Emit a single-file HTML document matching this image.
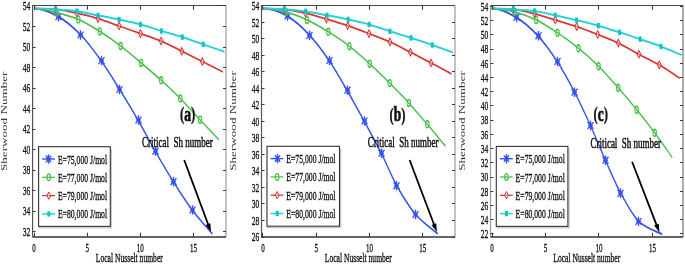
<!DOCTYPE html><html><head><meta charset="utf-8"><style>html,body{margin:0;padding:0;background:#fff;overflow:hidden}svg{display:block;will-change:transform}text{font-family:"Liberation Serif",serif}.t{stroke:#111;stroke-width:0.35px;paint-order:stroke}.lt{font-weight:normal;fill:#333}.t2{stroke-width:0.5px}</style></head><body>
<svg width="685" height="264" viewBox="0 0 685 264">
<rect width="685" height="264" fill="#fff"/>
<g transform="scale(0.6000,1)">
<path d="M57.00,8.50 C70.50,8.50 84.53,12.28 97.50,16.70 C110.47,21.12 123.03,27.70 134.83,35.00 C146.64,42.30 157.56,51.42 168.33,60.50 C179.11,69.58 189.22,79.58 199.50,89.50 C209.78,99.42 220.14,109.73 230.00,120.00 C239.86,130.27 248.86,140.83 258.67,151.10 C268.47,161.37 278.58,171.78 288.83,181.60 C299.08,191.42 309.28,201.27 320.17,210.00 C331.06,218.73 348.50,230.00 354.17,234.00" stroke="#3552ee" stroke-width="2.00" fill="none" stroke-linejoin="round"/>
<path transform="scale(1.6667,1)" d="M58.50,12.00V21.40M56.10,16.70H60.90M55.50,13.30L61.50,20.10M55.50,20.10L61.50,13.30" stroke="#3552ee" stroke-width="1.40" fill="none"/>
<path transform="scale(1.6667,1)" d="M80.50,30.30V39.70M78.10,35.00H82.90M77.50,31.60L83.50,38.40M77.50,38.40L83.50,31.60" stroke="#3552ee" stroke-width="1.40" fill="none"/>
<path transform="scale(1.6667,1)" d="M101.50,55.80V65.20M99.10,60.50H103.90M98.50,57.10L104.50,63.90M98.50,63.90L104.50,57.10" stroke="#3552ee" stroke-width="1.40" fill="none"/>
<path transform="scale(1.6667,1)" d="M119.50,84.80V94.20M117.10,89.50H121.90M116.50,86.10L122.50,92.90M116.50,92.90L122.50,86.10" stroke="#3552ee" stroke-width="1.40" fill="none"/>
<path transform="scale(1.6667,1)" d="M138.50,115.30V124.70M136.10,120.00H140.90M135.50,116.60L141.50,123.40M135.50,123.40L141.50,116.60" stroke="#3552ee" stroke-width="1.40" fill="none"/>
<path transform="scale(1.6667,1)" d="M155.50,146.40V155.80M153.10,151.10H157.90M152.50,147.70L158.50,154.50M152.50,154.50L158.50,147.70" stroke="#3552ee" stroke-width="1.40" fill="none"/>
<path transform="scale(1.6667,1)" d="M173.50,176.90V186.30M171.10,181.60H175.90M170.50,178.20L176.50,185.00M170.50,185.00L176.50,178.20" stroke="#3552ee" stroke-width="1.40" fill="none"/>
<path transform="scale(1.6667,1)" d="M192.50,205.30V214.70M190.10,210.00H194.90M189.50,206.60L195.50,213.40M189.50,213.40L195.50,206.60" stroke="#3552ee" stroke-width="1.40" fill="none"/>
<path d="M57.00,8.50 C69.56,8.50 82.42,10.78 94.67,12.60 C106.92,14.42 118.56,16.27 130.50,19.40 C142.44,22.53 154.56,26.97 166.33,31.40 C178.11,35.83 189.69,40.75 201.17,46.00 C212.64,51.25 223.92,57.18 235.17,62.90 C246.42,68.62 257.78,74.37 268.67,80.30 C279.56,86.23 289.72,91.93 300.50,98.50 C311.28,105.07 322.61,112.83 333.33,119.70 C344.06,126.57 359.58,136.37 364.83,139.70" stroke="#48c04c" stroke-width="1.75" fill="none" stroke-linejoin="round"/>
<ellipse cx="94.67" cy="12.60" rx="2.92" ry="3.4" stroke="#48c04c" stroke-width="1.60" fill="none"/>
<ellipse cx="130.50" cy="19.40" rx="2.92" ry="3.4" stroke="#48c04c" stroke-width="1.60" fill="none"/>
<ellipse cx="166.33" cy="31.40" rx="2.92" ry="3.4" stroke="#48c04c" stroke-width="1.60" fill="none"/>
<ellipse cx="201.17" cy="46.00" rx="2.92" ry="3.4" stroke="#48c04c" stroke-width="1.60" fill="none"/>
<ellipse cx="235.17" cy="62.90" rx="2.92" ry="3.4" stroke="#48c04c" stroke-width="1.60" fill="none"/>
<ellipse cx="268.67" cy="80.30" rx="2.92" ry="3.4" stroke="#48c04c" stroke-width="1.60" fill="none"/>
<ellipse cx="300.50" cy="98.50" rx="2.92" ry="3.4" stroke="#48c04c" stroke-width="1.60" fill="none"/>
<ellipse cx="333.33" cy="119.70" rx="2.92" ry="3.4" stroke="#48c04c" stroke-width="1.60" fill="none"/>
<path d="M57.00,8.50 C68.83,8.50 80.64,8.62 92.50,9.40 C104.36,10.18 116.36,11.67 128.17,13.20 C139.97,14.73 151.61,16.47 163.33,18.60 C175.06,20.73 186.69,23.50 198.50,26.00 C210.31,28.50 222.50,31.08 234.17,33.60 C245.83,36.12 257.03,38.17 268.50,41.10 C279.97,44.03 291.56,47.80 303.00,51.20 C314.44,54.60 325.72,58.03 337.17,61.50 C348.61,64.97 365.92,70.25 371.67,72.00" stroke="#d83232" stroke-width="1.75" fill="none" stroke-linejoin="round"/>
<path d="M92.50,5.70L95.67,9.40L92.50,13.10L89.33,9.40Z" stroke="#d83232" stroke-width="1.40" fill="#fff" fill-opacity="0.35"/>
<path d="M128.17,9.50L131.33,13.20L128.17,16.90L125.00,13.20Z" stroke="#d83232" stroke-width="1.40" fill="#fff" fill-opacity="0.35"/>
<path d="M163.33,14.90L166.50,18.60L163.33,22.30L160.17,18.60Z" stroke="#d83232" stroke-width="1.40" fill="#fff" fill-opacity="0.35"/>
<path d="M198.50,22.30L201.67,26.00L198.50,29.70L195.33,26.00Z" stroke="#d83232" stroke-width="1.40" fill="#fff" fill-opacity="0.35"/>
<path d="M234.17,29.90L237.33,33.60L234.17,37.30L231.00,33.60Z" stroke="#d83232" stroke-width="1.40" fill="#fff" fill-opacity="0.35"/>
<path d="M268.50,37.40L271.67,41.10L268.50,44.80L265.33,41.10Z" stroke="#d83232" stroke-width="1.40" fill="#fff" fill-opacity="0.35"/>
<path d="M303.00,47.50L306.17,51.20L303.00,54.90L299.83,51.20Z" stroke="#d83232" stroke-width="1.40" fill="#fff" fill-opacity="0.35"/>
<path d="M337.17,57.80L340.33,61.50L337.17,65.20L334.00,61.50Z" stroke="#d83232" stroke-width="1.40" fill="#fff" fill-opacity="0.35"/>
<path d="M57.00,8.50 C69.00,8.50 81.11,8.95 93.00,9.40 C104.89,9.85 116.61,10.20 128.33,11.20 C140.06,12.20 151.64,14.00 163.33,15.40 C175.03,16.80 186.69,18.08 198.50,19.60 C210.31,21.12 222.42,22.60 234.17,24.50 C245.92,26.40 257.39,28.90 269.00,31.00 C280.61,33.10 292.19,34.87 303.83,37.10 C315.47,39.33 327.11,41.97 338.83,44.40 C350.56,46.83 368.28,50.48 374.17,51.70" stroke="#28d2d2" stroke-width="2.00" fill="none" stroke-linejoin="round"/>
<rect x="90.50" y="6.70" width="5.00" height="5.4" fill="#14c2c8"/>
<rect x="125.83" y="8.50" width="5.00" height="5.4" fill="#14c2c8"/>
<rect x="160.83" y="12.70" width="5.00" height="5.4" fill="#14c2c8"/>
<rect x="196.00" y="16.90" width="5.00" height="5.4" fill="#14c2c8"/>
<rect x="231.67" y="21.80" width="5.00" height="5.4" fill="#14c2c8"/>
<rect x="266.50" y="28.30" width="5.00" height="5.4" fill="#14c2c8"/>
<rect x="301.33" y="34.40" width="5.00" height="5.4" fill="#14c2c8"/>
<rect x="336.33" y="41.70" width="5.00" height="5.4" fill="#14c2c8"/>
</g>
<path d="M226.00,5.50V237.00" stroke="#999" stroke-width="1.2" fill="none"/>
<path d="M32.60,5.50V237.00" stroke="#555" stroke-width="1.2" fill="none"/>
<path d="M32.60,5.50H226.00" stroke="#444" stroke-width="1.1" fill="none"/>
<path d="M32.60,237.00H226.00" stroke="#333" stroke-width="1.5" fill="none"/>
<path d="M34.50,237.00V232.70M34.50,5.50V9.70M87.50,237.00V232.70M87.50,5.50V9.70M140.50,237.00V232.70M140.50,5.50V9.70M193.50,237.00V232.70M193.50,5.50V9.70M32.60,231.50H35.60M226.00,231.50H223.00M32.60,211.50H35.60M226.00,211.50H223.00M32.60,190.50H35.60M226.00,190.50H223.00M32.60,170.50H35.60M226.00,170.50H223.00M32.60,149.50H35.60M226.00,149.50H223.00M32.60,129.50H35.60M226.00,129.50H223.00M32.60,108.50H35.60M226.00,108.50H223.00M32.60,88.50H35.60M226.00,88.50H223.00M32.60,67.50H35.60M226.00,67.50H223.00M32.60,47.50H35.60M226.00,47.50H223.00M32.60,26.50H35.60M226.00,26.50H223.00M32.60,5.50H35.60M226.00,5.50H223.00" stroke="#3a3a3a" stroke-width="1.1" fill="none"/>
<text x="32.35" y="251.7" font-size="13" textLength="3.50" lengthAdjust="spacingAndGlyphs" fill="#111" class="t">0</text>
<text x="85.45" y="251.7" font-size="13" textLength="3.50" lengthAdjust="spacingAndGlyphs" fill="#111" class="t">5</text>
<text x="136.80" y="251.7" font-size="13" textLength="7.00" lengthAdjust="spacingAndGlyphs" fill="#111" class="t">10</text>
<text x="189.90" y="251.7" font-size="13" textLength="7.00" lengthAdjust="spacingAndGlyphs" fill="#111" class="t">15</text>
<text x="22.80" y="235.90" font-size="13.5" textLength="7.50" lengthAdjust="spacingAndGlyphs" fill="#111" class="t">32</text>
<text x="22.80" y="215.39" font-size="13.5" textLength="7.50" lengthAdjust="spacingAndGlyphs" fill="#111" class="t">34</text>
<text x="22.80" y="194.88" font-size="13.5" textLength="7.50" lengthAdjust="spacingAndGlyphs" fill="#111" class="t">36</text>
<text x="22.80" y="174.37" font-size="13.5" textLength="7.50" lengthAdjust="spacingAndGlyphs" fill="#111" class="t">38</text>
<text x="22.80" y="153.86" font-size="13.5" textLength="7.50" lengthAdjust="spacingAndGlyphs" fill="#111" class="t">40</text>
<text x="22.80" y="133.35" font-size="13.5" textLength="7.50" lengthAdjust="spacingAndGlyphs" fill="#111" class="t">42</text>
<text x="22.80" y="112.84" font-size="13.5" textLength="7.50" lengthAdjust="spacingAndGlyphs" fill="#111" class="t">44</text>
<text x="22.80" y="92.33" font-size="13.5" textLength="7.50" lengthAdjust="spacingAndGlyphs" fill="#111" class="t">46</text>
<text x="22.80" y="71.82" font-size="13.5" textLength="7.50" lengthAdjust="spacingAndGlyphs" fill="#111" class="t">48</text>
<text x="22.80" y="51.31" font-size="13.5" textLength="7.50" lengthAdjust="spacingAndGlyphs" fill="#111" class="t">50</text>
<text x="22.80" y="30.80" font-size="13.5" textLength="7.50" lengthAdjust="spacingAndGlyphs" fill="#111" class="t">52</text>
<text x="22.80" y="10.29" font-size="13.5" textLength="7.50" lengthAdjust="spacingAndGlyphs" fill="#111" class="t">54</text>
<text x="95.80" y="262.3" font-size="13" textLength="67" lengthAdjust="spacingAndGlyphs" fill="#111" class="t">Local Nusselt number</text>
<text transform="translate(6.60,121.30) scale(0.62,1) rotate(-90)" x="0" y="0" font-size="12.6" font-weight="bold" text-anchor="middle" textLength="99.5" lengthAdjust="spacingAndGlyphs" fill="#111" class="lt">Sherwood Number</text>
<path d="M38.60,227.90H111.50V148.70" stroke="#c8c8c8" stroke-width="1.2" fill="none"/>
<rect x="38.60" y="146.70" width="71.70" height="79.70" fill="#fff" stroke="#333" stroke-width="1.1"/>
<path d="M42.20,159.00H55.00" stroke="#3552ee" stroke-width="1.40"/>
<path transform="scale(1.0000,1)" d="M48.50,154.30V163.70M46.10,159.00H50.90M45.90,155.80L51.10,162.20M45.90,162.20L51.10,155.80" stroke="#3552ee" stroke-width="1.40" fill="none"/>
<text x="57.90" y="163.50" font-size="13.5" textLength="49.2" lengthAdjust="spacingAndGlyphs" fill="#111" class="t">E=75,000 J/mol</text>
<path d="M42.20,177.30H55.00" stroke="#48c04c" stroke-width="1.25"/>
<ellipse cx="48.80" cy="177.30" rx="1.75" ry="3.4" stroke="#48c04c" stroke-width="1.20" fill="none"/>
<text x="57.90" y="181.80" font-size="13.5" textLength="49.2" lengthAdjust="spacingAndGlyphs" fill="#111" class="t">E=77,000 J/mol</text>
<path d="M42.20,195.60H55.00" stroke="#d83232" stroke-width="1.25"/>
<path d="M48.80,191.90L50.70,195.60L48.80,199.30L46.90,195.60Z" stroke="#d83232" stroke-width="1.00" fill="#fff" fill-opacity="0.35"/>
<text x="57.90" y="200.10" font-size="13.5" textLength="49.2" lengthAdjust="spacingAndGlyphs" fill="#111" class="t">E=79,000 J/mol</text>
<path d="M42.20,213.90H55.00" stroke="#28d2d2" stroke-width="1.50"/>
<rect x="47.30" y="211.20" width="3.00" height="5.4" fill="#14c2c8"/>
<text x="57.90" y="218.40" font-size="13.5" textLength="49.2" lengthAdjust="spacingAndGlyphs" fill="#111" class="t">E=80,000 J/mol</text>
<text transform="translate(180.00,120.70) scale(0.680,1)" font-weight="bold" fill="#111" stroke="#111" stroke-width="0.3"><tspan font-size="19" dy="-0.6">(</tspan><tspan font-size="20" dy="0.6" stroke-width="0.7">a</tspan><tspan font-size="19" dy="-0.6">)</tspan></text>
<text x="142.10" y="147.10" font-size="14.2" textLength="70.70" lengthAdjust="spacingAndGlyphs" fill="#111" class="t t2" xml:space="preserve">Critical  Sh number</text>
<path d="M184.20,160.00L208.38,224.97" stroke="#000" stroke-width="1.8"/>
<path d="M211.00,232.00L205.69,224.91L210.38,223.16Z" fill="#000"/>
<g transform="scale(0.6000,1)">
<path d="M438.50,8.50 C451.89,8.50 465.72,11.53 478.67,16.00 C491.61,20.47 504.53,27.88 516.17,35.30 C527.81,42.72 538.14,51.35 548.50,60.50 C558.86,69.65 568.61,80.12 578.33,90.20 C588.06,100.28 597.31,110.50 606.83,121.00 C616.36,131.50 626.42,142.40 635.50,153.20 C644.58,164.00 651.81,175.58 661.33,185.80 C670.86,196.02 681.28,206.50 692.67,214.50 C704.06,222.50 723.50,230.58 729.67,233.80" stroke="#3552ee" stroke-width="2.00" fill="none" stroke-linejoin="round"/>
<path transform="scale(1.6667,1)" d="M287.50,11.30V20.70M285.10,16.00H289.90M284.50,12.60L290.50,19.40M284.50,19.40L290.50,12.60" stroke="#3552ee" stroke-width="1.40" fill="none"/>
<path transform="scale(1.6667,1)" d="M309.50,30.60V40.00M307.10,35.30H311.90M306.50,31.90L312.50,38.70M306.50,38.70L312.50,31.90" stroke="#3552ee" stroke-width="1.40" fill="none"/>
<path transform="scale(1.6667,1)" d="M329.50,55.80V65.20M327.10,60.50H331.90M326.50,57.10L332.50,63.90M326.50,63.90L332.50,57.10" stroke="#3552ee" stroke-width="1.40" fill="none"/>
<path transform="scale(1.6667,1)" d="M347.50,85.50V94.90M345.10,90.20H349.90M344.50,86.80L350.50,93.60M344.50,93.60L350.50,86.80" stroke="#3552ee" stroke-width="1.40" fill="none"/>
<path transform="scale(1.6667,1)" d="M364.50,116.30V125.70M362.10,121.00H366.90M361.50,117.60L367.50,124.40M361.50,124.40L367.50,117.60" stroke="#3552ee" stroke-width="1.40" fill="none"/>
<path transform="scale(1.6667,1)" d="M381.50,148.50V157.90M379.10,153.20H383.90M378.50,149.80L384.50,156.60M378.50,156.60L384.50,149.80" stroke="#3552ee" stroke-width="1.40" fill="none"/>
<path transform="scale(1.6667,1)" d="M396.50,181.10V190.50M394.10,185.80H398.90M393.50,182.40L399.50,189.20M393.50,189.20L399.50,182.40" stroke="#3552ee" stroke-width="1.40" fill="none"/>
<path transform="scale(1.6667,1)" d="M415.50,209.80V219.20M413.10,214.50H417.90M412.50,211.10L418.50,217.90M412.50,217.90L418.50,211.10" stroke="#3552ee" stroke-width="1.40" fill="none"/>
<path d="M438.50,8.50 C451.17,8.50 464.31,10.00 476.50,11.90 C488.69,13.80 499.89,16.58 511.67,19.90 C523.44,23.22 535.39,27.42 547.17,31.80 C558.94,36.18 570.83,40.88 582.33,46.20 C593.83,51.52 604.97,57.55 616.17,63.70 C627.36,69.85 638.64,76.57 649.50,83.10 C660.36,89.63 670.89,96.03 681.33,102.90 C691.78,109.77 701.97,117.07 712.17,124.30 C722.36,131.53 737.44,142.63 742.50,146.30" stroke="#48c04c" stroke-width="1.75" fill="none" stroke-linejoin="round"/>
<ellipse cx="476.50" cy="11.90" rx="2.92" ry="3.4" stroke="#48c04c" stroke-width="1.60" fill="none"/>
<ellipse cx="511.67" cy="19.90" rx="2.92" ry="3.4" stroke="#48c04c" stroke-width="1.60" fill="none"/>
<ellipse cx="547.17" cy="31.80" rx="2.92" ry="3.4" stroke="#48c04c" stroke-width="1.60" fill="none"/>
<ellipse cx="582.33" cy="46.20" rx="2.92" ry="3.4" stroke="#48c04c" stroke-width="1.60" fill="none"/>
<ellipse cx="616.17" cy="63.70" rx="2.92" ry="3.4" stroke="#48c04c" stroke-width="1.60" fill="none"/>
<ellipse cx="649.50" cy="83.10" rx="2.92" ry="3.4" stroke="#48c04c" stroke-width="1.60" fill="none"/>
<ellipse cx="681.33" cy="102.90" rx="2.92" ry="3.4" stroke="#48c04c" stroke-width="1.60" fill="none"/>
<ellipse cx="712.17" cy="124.30" rx="2.92" ry="3.4" stroke="#48c04c" stroke-width="1.60" fill="none"/>
<path d="M438.50,8.50 C450.28,8.50 462.03,8.62 473.83,9.40 C485.64,10.18 497.64,11.58 509.33,13.20 C521.03,14.82 532.31,17.02 544.00,19.10 C555.69,21.18 567.67,23.28 579.50,25.70 C591.33,28.12 603.28,30.90 615.00,33.60 C626.72,36.30 638.33,38.80 649.83,41.90 C661.33,45.00 672.58,48.70 684.00,52.20 C695.42,55.70 706.92,59.28 718.33,62.90 C729.75,66.52 746.81,72.07 752.50,73.90" stroke="#d83232" stroke-width="1.75" fill="none" stroke-linejoin="round"/>
<path d="M473.83,5.70L477.00,9.40L473.83,13.10L470.67,9.40Z" stroke="#d83232" stroke-width="1.40" fill="#fff" fill-opacity="0.35"/>
<path d="M509.33,9.50L512.50,13.20L509.33,16.90L506.17,13.20Z" stroke="#d83232" stroke-width="1.40" fill="#fff" fill-opacity="0.35"/>
<path d="M544.00,15.40L547.17,19.10L544.00,22.80L540.83,19.10Z" stroke="#d83232" stroke-width="1.40" fill="#fff" fill-opacity="0.35"/>
<path d="M579.50,22.00L582.67,25.70L579.50,29.40L576.33,25.70Z" stroke="#d83232" stroke-width="1.40" fill="#fff" fill-opacity="0.35"/>
<path d="M615.00,29.90L618.17,33.60L615.00,37.30L611.83,33.60Z" stroke="#d83232" stroke-width="1.40" fill="#fff" fill-opacity="0.35"/>
<path d="M649.83,38.20L653.00,41.90L649.83,45.60L646.67,41.90Z" stroke="#d83232" stroke-width="1.40" fill="#fff" fill-opacity="0.35"/>
<path d="M684.00,48.50L687.17,52.20L684.00,55.90L680.83,52.20Z" stroke="#d83232" stroke-width="1.40" fill="#fff" fill-opacity="0.35"/>
<path d="M718.33,59.20L721.50,62.90L718.33,66.60L715.17,62.90Z" stroke="#d83232" stroke-width="1.40" fill="#fff" fill-opacity="0.35"/>
<path d="M438.50,8.50 C450.39,8.50 462.33,8.82 474.17,9.30 C486.00,9.78 497.69,10.40 509.50,11.40 C521.31,12.40 533.19,13.95 545.00,15.30 C556.81,16.65 568.64,17.97 580.33,19.50 C592.03,21.03 603.58,22.53 615.17,24.50 C626.75,26.47 638.17,29.07 649.83,31.30 C661.50,33.53 673.39,35.62 685.17,37.90 C696.94,40.18 708.86,42.57 720.50,45.00 C732.14,47.43 749.25,51.25 755.00,52.50" stroke="#28d2d2" stroke-width="2.00" fill="none" stroke-linejoin="round"/>
<rect x="471.67" y="6.60" width="5.00" height="5.4" fill="#14c2c8"/>
<rect x="507.00" y="8.70" width="5.00" height="5.4" fill="#14c2c8"/>
<rect x="542.50" y="12.60" width="5.00" height="5.4" fill="#14c2c8"/>
<rect x="577.83" y="16.80" width="5.00" height="5.4" fill="#14c2c8"/>
<rect x="612.67" y="21.80" width="5.00" height="5.4" fill="#14c2c8"/>
<rect x="647.33" y="28.60" width="5.00" height="5.4" fill="#14c2c8"/>
<rect x="682.67" y="35.20" width="5.00" height="5.4" fill="#14c2c8"/>
<rect x="718.00" y="42.30" width="5.00" height="5.4" fill="#14c2c8"/>
</g>
<path d="M455.00,5.50V237.00" stroke="#999" stroke-width="1.2" fill="none"/>
<path d="M261.50,5.50V237.00" stroke="#555" stroke-width="1.2" fill="none"/>
<path d="M261.50,5.50H455.00" stroke="#444" stroke-width="1.1" fill="none"/>
<path d="M261.50,237.00H455.00" stroke="#333" stroke-width="1.5" fill="none"/>
<path d="M262.50,237.00V232.70M262.50,5.50V9.70M316.50,237.00V232.70M316.50,5.50V9.70M369.50,237.00V232.70M369.50,5.50V9.70M422.50,237.00V232.70M422.50,5.50V9.70M261.50,237.50H264.50M455.00,237.50H452.00M261.50,220.50H264.50M455.00,220.50H452.00M261.50,203.50H264.50M455.00,203.50H452.00M261.50,187.50H264.50M455.00,187.50H452.00M261.50,170.50H264.50M455.00,170.50H452.00M261.50,154.50H264.50M455.00,154.50H452.00M261.50,137.50H264.50M455.00,137.50H452.00M261.50,121.50H264.50M455.00,121.50H452.00M261.50,104.50H264.50M455.00,104.50H452.00M261.50,88.50H264.50M455.00,88.50H452.00M261.50,71.50H264.50M455.00,71.50H452.00M261.50,55.50H264.50M455.00,55.50H452.00M261.50,38.50H264.50M455.00,38.50H452.00M261.50,22.50H264.50M455.00,22.50H452.00M261.50,5.50H264.50M455.00,5.50H452.00" stroke="#3a3a3a" stroke-width="1.1" fill="none"/>
<text x="261.20" y="251.7" font-size="13" textLength="3.50" lengthAdjust="spacingAndGlyphs" fill="#111" class="t">0</text>
<text x="314.45" y="251.7" font-size="13" textLength="3.50" lengthAdjust="spacingAndGlyphs" fill="#111" class="t">5</text>
<text x="365.95" y="251.7" font-size="13" textLength="7.00" lengthAdjust="spacingAndGlyphs" fill="#111" class="t">10</text>
<text x="419.20" y="251.7" font-size="13" textLength="7.00" lengthAdjust="spacingAndGlyphs" fill="#111" class="t">15</text>
<text x="251.70" y="241.30" font-size="13.5" textLength="7.50" lengthAdjust="spacingAndGlyphs" fill="#111" class="t">26</text>
<text x="251.70" y="224.78" font-size="13.5" textLength="7.50" lengthAdjust="spacingAndGlyphs" fill="#111" class="t">28</text>
<text x="251.70" y="208.26" font-size="13.5" textLength="7.50" lengthAdjust="spacingAndGlyphs" fill="#111" class="t">30</text>
<text x="251.70" y="191.74" font-size="13.5" textLength="7.50" lengthAdjust="spacingAndGlyphs" fill="#111" class="t">32</text>
<text x="251.70" y="175.22" font-size="13.5" textLength="7.50" lengthAdjust="spacingAndGlyphs" fill="#111" class="t">34</text>
<text x="251.70" y="158.70" font-size="13.5" textLength="7.50" lengthAdjust="spacingAndGlyphs" fill="#111" class="t">36</text>
<text x="251.70" y="142.18" font-size="13.5" textLength="7.50" lengthAdjust="spacingAndGlyphs" fill="#111" class="t">38</text>
<text x="251.70" y="125.66" font-size="13.5" textLength="7.50" lengthAdjust="spacingAndGlyphs" fill="#111" class="t">40</text>
<text x="251.70" y="109.14" font-size="13.5" textLength="7.50" lengthAdjust="spacingAndGlyphs" fill="#111" class="t">42</text>
<text x="251.70" y="92.62" font-size="13.5" textLength="7.50" lengthAdjust="spacingAndGlyphs" fill="#111" class="t">44</text>
<text x="251.70" y="76.10" font-size="13.5" textLength="7.50" lengthAdjust="spacingAndGlyphs" fill="#111" class="t">46</text>
<text x="251.70" y="59.58" font-size="13.5" textLength="7.50" lengthAdjust="spacingAndGlyphs" fill="#111" class="t">48</text>
<text x="251.70" y="43.06" font-size="13.5" textLength="7.50" lengthAdjust="spacingAndGlyphs" fill="#111" class="t">50</text>
<text x="251.70" y="26.54" font-size="13.5" textLength="7.50" lengthAdjust="spacingAndGlyphs" fill="#111" class="t">52</text>
<text x="251.70" y="10.02" font-size="13.5" textLength="7.50" lengthAdjust="spacingAndGlyphs" fill="#111" class="t">54</text>
<text x="324.75" y="262.3" font-size="13" textLength="67" lengthAdjust="spacingAndGlyphs" fill="#111" class="t">Local Nusselt number</text>
<text transform="translate(235.60,121.00) scale(0.62,1) rotate(-90)" x="0" y="0" font-size="12.6" font-weight="bold" text-anchor="middle" textLength="99.5" lengthAdjust="spacingAndGlyphs" fill="#111" class="lt">Sherwood Number</text>
<path d="M267.00,227.70H340.70V148.30" stroke="#c8c8c8" stroke-width="1.2" fill="none"/>
<rect x="267.00" y="146.30" width="72.50" height="79.90" fill="#fff" stroke="#333" stroke-width="1.1"/>
<path d="M270.60,158.60H283.40" stroke="#3552ee" stroke-width="1.40"/>
<path transform="scale(1.0000,1)" d="M277.50,153.90V163.30M275.10,158.60H279.90M274.90,155.40L280.10,161.80M274.90,161.80L280.10,155.40" stroke="#3552ee" stroke-width="1.40" fill="none"/>
<text x="286.30" y="163.10" font-size="13.5" textLength="49.2" lengthAdjust="spacingAndGlyphs" fill="#111" class="t">E=75,000 J/mol</text>
<path d="M270.60,176.90H283.40" stroke="#48c04c" stroke-width="1.25"/>
<ellipse cx="277.20" cy="176.90" rx="1.75" ry="3.4" stroke="#48c04c" stroke-width="1.20" fill="none"/>
<text x="286.30" y="181.40" font-size="13.5" textLength="49.2" lengthAdjust="spacingAndGlyphs" fill="#111" class="t">E=77,000 J/mol</text>
<path d="M270.60,195.20H283.40" stroke="#d83232" stroke-width="1.25"/>
<path d="M277.20,191.50L279.10,195.20L277.20,198.90L275.30,195.20Z" stroke="#d83232" stroke-width="1.00" fill="#fff" fill-opacity="0.35"/>
<text x="286.30" y="199.70" font-size="13.5" textLength="49.2" lengthAdjust="spacingAndGlyphs" fill="#111" class="t">E=79,000 J/mol</text>
<path d="M270.60,213.50H283.40" stroke="#28d2d2" stroke-width="1.50"/>
<rect x="275.70" y="210.80" width="3.00" height="5.4" fill="#14c2c8"/>
<text x="286.30" y="218.00" font-size="13.5" textLength="49.2" lengthAdjust="spacingAndGlyphs" fill="#111" class="t">E=80,000 J/mol</text>
<text transform="translate(389.60,121.20) scale(0.670,1)" font-weight="bold" fill="#111" stroke="#111" stroke-width="0.3"><tspan font-size="19" dy="-0.6">(</tspan><tspan font-size="20" dy="0.6" stroke-width="0.7">b</tspan><tspan font-size="19" dy="-0.6">)</tspan></text>
<text x="367.80" y="147.10" font-size="14.2" textLength="70.60" lengthAdjust="spacingAndGlyphs" fill="#111" class="t t2" xml:space="preserve">Critical  Sh number</text>
<path d="M409.60,160.00L434.24,224.99" stroke="#000" stroke-width="1.8"/>
<path d="M436.90,232.00L431.55,224.94L436.22,223.17Z" fill="#000"/>
<g transform="scale(0.6000,1)">
<path d="M819.67,8.50 C833.11,8.50 847.17,12.65 860.00,17.20 C872.83,21.75 885.22,28.42 896.67,35.80 C908.11,43.18 918.50,52.10 928.67,61.50 C938.83,70.90 948.44,81.53 957.67,92.20 C966.89,102.87 975.44,114.17 984.00,125.50 C992.56,136.83 1000.56,148.90 1009.00,160.20 C1017.44,171.50 1025.36,183.08 1034.67,193.30 C1043.97,203.52 1053.31,214.67 1064.83,221.50 C1076.36,228.33 1097.33,232.17 1103.83,234.30" stroke="#3552ee" stroke-width="2.00" fill="none" stroke-linejoin="round"/>
<path transform="scale(1.6667,1)" d="M516.50,12.50V21.90M514.10,17.20H518.90M513.50,13.80L519.50,20.60M513.50,20.60L519.50,13.80" stroke="#3552ee" stroke-width="1.40" fill="none"/>
<path transform="scale(1.6667,1)" d="M538.50,31.10V40.50M536.10,35.80H540.90M535.50,32.40L541.50,39.20M535.50,39.20L541.50,32.40" stroke="#3552ee" stroke-width="1.40" fill="none"/>
<path transform="scale(1.6667,1)" d="M557.50,56.80V66.20M555.10,61.50H559.90M554.50,58.10L560.50,64.90M554.50,64.90L560.50,58.10" stroke="#3552ee" stroke-width="1.40" fill="none"/>
<path transform="scale(1.6667,1)" d="M574.50,87.50V96.90M572.10,92.20H576.90M571.50,88.80L577.50,95.60M571.50,95.60L577.50,88.80" stroke="#3552ee" stroke-width="1.40" fill="none"/>
<path transform="scale(1.6667,1)" d="M590.50,120.80V130.20M588.10,125.50H592.90M587.50,122.10L593.50,128.90M587.50,128.90L593.50,122.10" stroke="#3552ee" stroke-width="1.40" fill="none"/>
<path transform="scale(1.6667,1)" d="M605.50,155.50V164.90M603.10,160.20H607.90M602.50,156.80L608.50,163.60M602.50,163.60L608.50,156.80" stroke="#3552ee" stroke-width="1.40" fill="none"/>
<path transform="scale(1.6667,1)" d="M620.50,188.60V198.00M618.10,193.30H622.90M617.50,189.90L623.50,196.70M617.50,196.70L623.50,189.90" stroke="#3552ee" stroke-width="1.40" fill="none"/>
<path transform="scale(1.6667,1)" d="M638.50,216.80V226.20M636.10,221.50H640.90M635.50,218.10L641.50,224.90M635.50,224.90L641.50,218.10" stroke="#3552ee" stroke-width="1.40" fill="none"/>
<path d="M819.67,8.50 C832.39,8.50 845.50,10.00 857.83,11.90 C870.17,13.80 881.78,16.42 893.67,19.90 C905.56,23.38 917.42,28.07 929.17,32.80 C940.92,37.53 952.75,42.72 964.17,48.30 C975.58,53.88 986.64,59.72 997.67,66.30 C1008.69,72.88 1019.75,80.55 1030.33,87.80 C1040.92,95.05 1051.03,102.30 1061.17,109.80 C1071.31,117.30 1081.28,124.83 1091.17,132.80 C1101.06,140.77 1115.61,153.47 1120.50,157.60" stroke="#48c04c" stroke-width="1.75" fill="none" stroke-linejoin="round"/>
<ellipse cx="857.83" cy="11.90" rx="2.92" ry="3.4" stroke="#48c04c" stroke-width="1.60" fill="none"/>
<ellipse cx="893.67" cy="19.90" rx="2.92" ry="3.4" stroke="#48c04c" stroke-width="1.60" fill="none"/>
<ellipse cx="929.17" cy="32.80" rx="2.92" ry="3.4" stroke="#48c04c" stroke-width="1.60" fill="none"/>
<ellipse cx="964.17" cy="48.30" rx="2.92" ry="3.4" stroke="#48c04c" stroke-width="1.60" fill="none"/>
<ellipse cx="997.67" cy="66.30" rx="2.92" ry="3.4" stroke="#48c04c" stroke-width="1.60" fill="none"/>
<ellipse cx="1030.33" cy="87.80" rx="2.92" ry="3.4" stroke="#48c04c" stroke-width="1.60" fill="none"/>
<ellipse cx="1061.17" cy="109.80" rx="2.92" ry="3.4" stroke="#48c04c" stroke-width="1.60" fill="none"/>
<ellipse cx="1091.17" cy="132.80" rx="2.92" ry="3.4" stroke="#48c04c" stroke-width="1.60" fill="none"/>
<path d="M819.67,8.50 C831.61,8.50 843.61,8.52 855.50,9.40 C867.39,10.28 879.33,12.05 891.00,13.80 C902.67,15.55 913.81,17.77 925.50,19.90 C937.19,22.03 949.39,24.17 961.17,26.60 C972.94,29.03 984.61,31.75 996.17,34.50 C1007.72,37.25 1019.06,39.80 1030.50,43.10 C1041.94,46.40 1053.44,50.67 1064.83,54.30 C1076.22,57.93 1087.44,60.92 1098.83,64.90 C1110.22,68.88 1127.44,75.98 1133.17,78.20" stroke="#d83232" stroke-width="1.75" fill="none" stroke-linejoin="round"/>
<path d="M855.50,5.70L858.67,9.40L855.50,13.10L852.33,9.40Z" stroke="#d83232" stroke-width="1.40" fill="#fff" fill-opacity="0.35"/>
<path d="M891.00,10.10L894.17,13.80L891.00,17.50L887.83,13.80Z" stroke="#d83232" stroke-width="1.40" fill="#fff" fill-opacity="0.35"/>
<path d="M925.50,16.20L928.67,19.90L925.50,23.60L922.33,19.90Z" stroke="#d83232" stroke-width="1.40" fill="#fff" fill-opacity="0.35"/>
<path d="M961.17,22.90L964.33,26.60L961.17,30.30L958.00,26.60Z" stroke="#d83232" stroke-width="1.40" fill="#fff" fill-opacity="0.35"/>
<path d="M996.17,30.80L999.33,34.50L996.17,38.20L993.00,34.50Z" stroke="#d83232" stroke-width="1.40" fill="#fff" fill-opacity="0.35"/>
<path d="M1030.50,39.40L1033.67,43.10L1030.50,46.80L1027.33,43.10Z" stroke="#d83232" stroke-width="1.40" fill="#fff" fill-opacity="0.35"/>
<path d="M1064.83,50.60L1068.00,54.30L1064.83,58.00L1061.67,54.30Z" stroke="#d83232" stroke-width="1.40" fill="#fff" fill-opacity="0.35"/>
<path d="M1098.83,61.20L1102.00,64.90L1098.83,68.60L1095.67,64.90Z" stroke="#d83232" stroke-width="1.40" fill="#fff" fill-opacity="0.35"/>
<path d="M819.67,8.50 C831.67,8.50 843.78,8.87 855.67,9.30 C867.56,9.73 879.36,10.10 891.00,11.10 C902.64,12.10 913.83,13.78 925.50,15.30 C937.17,16.82 949.03,18.47 961.00,20.20 C972.97,21.93 985.39,23.68 997.33,25.70 C1009.28,27.72 1021.06,30.05 1032.67,32.30 C1044.28,34.55 1055.50,36.83 1067.00,39.20 C1078.50,41.57 1090.11,43.85 1101.67,46.50 C1113.22,49.15 1130.56,53.67 1136.33,55.10" stroke="#28d2d2" stroke-width="2.00" fill="none" stroke-linejoin="round"/>
<rect x="853.17" y="6.60" width="5.00" height="5.4" fill="#14c2c8"/>
<rect x="888.50" y="8.40" width="5.00" height="5.4" fill="#14c2c8"/>
<rect x="923.00" y="12.60" width="5.00" height="5.4" fill="#14c2c8"/>
<rect x="958.50" y="17.50" width="5.00" height="5.4" fill="#14c2c8"/>
<rect x="994.83" y="23.00" width="5.00" height="5.4" fill="#14c2c8"/>
<rect x="1030.17" y="29.60" width="5.00" height="5.4" fill="#14c2c8"/>
<rect x="1064.50" y="36.50" width="5.00" height="5.4" fill="#14c2c8"/>
<rect x="1099.17" y="43.80" width="5.00" height="5.4" fill="#14c2c8"/>
</g>
<path d="M683.00,5.50V237.00" stroke="#777" stroke-width="1.2" fill="none"/>
<path d="M490.50,5.50V237.00" stroke="#999" stroke-width="1.2" fill="none"/>
<path d="M490.50,5.50H683.00" stroke="#444" stroke-width="1.1" fill="none"/>
<path d="M490.50,237.00H683.00" stroke="#333" stroke-width="1.5" fill="none"/>
<path d="M492.50,237.00V232.70M492.50,5.50V9.70M545.50,237.00V232.70M545.50,5.50V9.70M598.50,237.00V232.70M598.50,5.50V9.70M652.50,237.00V232.70M652.50,5.50V9.70M490.50,233.50H493.50M683.00,233.50H680.00M490.50,219.50H493.50M683.00,219.50H680.00M490.50,205.50H493.50M683.00,205.50H680.00M490.50,191.50H493.50M683.00,191.50H680.00M490.50,177.50H493.50M683.00,177.50H680.00M490.50,162.50H493.50M683.00,162.50H680.00M490.50,148.50H493.50M683.00,148.50H680.00M490.50,134.50H493.50M683.00,134.50H680.00M490.50,120.50H493.50M683.00,120.50H680.00M490.50,105.50H493.50M683.00,105.50H680.00M490.50,91.50H493.50M683.00,91.50H680.00M490.50,77.50H493.50M683.00,77.50H680.00M490.50,63.50H493.50M683.00,63.50H680.00M490.50,49.50H493.50M683.00,49.50H680.00M490.50,34.50H493.50M683.00,34.50H680.00M490.50,20.50H493.50M683.00,20.50H680.00M490.50,6.50H493.50M683.00,6.50H680.00" stroke="#3a3a3a" stroke-width="1.1" fill="none"/>
<text x="490.30" y="251.7" font-size="13" textLength="3.50" lengthAdjust="spacingAndGlyphs" fill="#111" class="t">0</text>
<text x="543.75" y="251.7" font-size="13" textLength="3.50" lengthAdjust="spacingAndGlyphs" fill="#111" class="t">5</text>
<text x="595.45" y="251.7" font-size="13" textLength="7.00" lengthAdjust="spacingAndGlyphs" fill="#111" class="t">10</text>
<text x="648.90" y="251.7" font-size="13" textLength="7.00" lengthAdjust="spacingAndGlyphs" fill="#111" class="t">15</text>
<text x="480.70" y="238.20" font-size="13.5" textLength="7.50" lengthAdjust="spacingAndGlyphs" fill="#111" class="t">22</text>
<text x="480.70" y="223.98" font-size="13.5" textLength="7.50" lengthAdjust="spacingAndGlyphs" fill="#111" class="t">24</text>
<text x="480.70" y="209.76" font-size="13.5" textLength="7.50" lengthAdjust="spacingAndGlyphs" fill="#111" class="t">26</text>
<text x="480.70" y="195.54" font-size="13.5" textLength="7.50" lengthAdjust="spacingAndGlyphs" fill="#111" class="t">28</text>
<text x="480.70" y="181.32" font-size="13.5" textLength="7.50" lengthAdjust="spacingAndGlyphs" fill="#111" class="t">30</text>
<text x="480.70" y="167.10" font-size="13.5" textLength="7.50" lengthAdjust="spacingAndGlyphs" fill="#111" class="t">32</text>
<text x="480.70" y="152.88" font-size="13.5" textLength="7.50" lengthAdjust="spacingAndGlyphs" fill="#111" class="t">34</text>
<text x="480.70" y="138.66" font-size="13.5" textLength="7.50" lengthAdjust="spacingAndGlyphs" fill="#111" class="t">36</text>
<text x="480.70" y="124.44" font-size="13.5" textLength="7.50" lengthAdjust="spacingAndGlyphs" fill="#111" class="t">38</text>
<text x="480.70" y="110.22" font-size="13.5" textLength="7.50" lengthAdjust="spacingAndGlyphs" fill="#111" class="t">40</text>
<text x="480.70" y="96.00" font-size="13.5" textLength="7.50" lengthAdjust="spacingAndGlyphs" fill="#111" class="t">42</text>
<text x="480.70" y="81.78" font-size="13.5" textLength="7.50" lengthAdjust="spacingAndGlyphs" fill="#111" class="t">44</text>
<text x="480.70" y="67.56" font-size="13.5" textLength="7.50" lengthAdjust="spacingAndGlyphs" fill="#111" class="t">46</text>
<text x="480.70" y="53.34" font-size="13.5" textLength="7.50" lengthAdjust="spacingAndGlyphs" fill="#111" class="t">48</text>
<text x="480.70" y="39.12" font-size="13.5" textLength="7.50" lengthAdjust="spacingAndGlyphs" fill="#111" class="t">50</text>
<text x="480.70" y="24.90" font-size="13.5" textLength="7.50" lengthAdjust="spacingAndGlyphs" fill="#111" class="t">52</text>
<text x="480.70" y="10.68" font-size="13.5" textLength="7.50" lengthAdjust="spacingAndGlyphs" fill="#111" class="t">54</text>
<text x="553.25" y="262.3" font-size="13" textLength="67" lengthAdjust="spacingAndGlyphs" fill="#111" class="t">Local Nusselt number</text>
<text transform="translate(465.00,121.00) scale(0.62,1) rotate(-90)" x="0" y="0" font-size="12.6" font-weight="bold" text-anchor="middle" textLength="99.5" lengthAdjust="spacingAndGlyphs" fill="#111" class="lt">Sherwood Number</text>
<path d="M496.30,227.90H569.10V148.40" stroke="#c8c8c8" stroke-width="1.2" fill="none"/>
<rect x="496.30" y="146.40" width="71.60" height="80.00" fill="#fff" stroke="#333" stroke-width="1.1"/>
<path d="M499.90,158.70H512.70" stroke="#3552ee" stroke-width="1.40"/>
<path transform="scale(1.0000,1)" d="M506.50,154.00V163.40M504.10,158.70H508.90M503.90,155.50L509.10,161.90M503.90,161.90L509.10,155.50" stroke="#3552ee" stroke-width="1.40" fill="none"/>
<text x="515.60" y="163.20" font-size="13.5" textLength="49.2" lengthAdjust="spacingAndGlyphs" fill="#111" class="t">E=75,000 J/mol</text>
<path d="M499.90,177.00H512.70" stroke="#48c04c" stroke-width="1.25"/>
<ellipse cx="506.50" cy="177.00" rx="1.75" ry="3.4" stroke="#48c04c" stroke-width="1.20" fill="none"/>
<text x="515.60" y="181.50" font-size="13.5" textLength="49.2" lengthAdjust="spacingAndGlyphs" fill="#111" class="t">E=77,000 J/mol</text>
<path d="M499.90,195.30H512.70" stroke="#d83232" stroke-width="1.25"/>
<path d="M506.50,191.60L508.40,195.30L506.50,199.00L504.60,195.30Z" stroke="#d83232" stroke-width="1.00" fill="#fff" fill-opacity="0.35"/>
<text x="515.60" y="199.80" font-size="13.5" textLength="49.2" lengthAdjust="spacingAndGlyphs" fill="#111" class="t">E=79,000 J/mol</text>
<path d="M499.90,213.60H512.70" stroke="#28d2d2" stroke-width="1.50"/>
<rect x="505.00" y="210.90" width="3.00" height="5.4" fill="#14c2c8"/>
<text x="515.60" y="218.10" font-size="13.5" textLength="49.2" lengthAdjust="spacingAndGlyphs" fill="#111" class="t">E=80,000 J/mol</text>
<text transform="translate(593.60,120.70) scale(0.670,1)" font-weight="bold" fill="#111" stroke="#111" stroke-width="0.3"><tspan font-size="19" dy="-0.6">(</tspan><tspan font-size="20" dy="0.6" stroke-width="0.7">c</tspan><tspan font-size="19" dy="-0.6">)</tspan></text>
<text x="590.40" y="148.20" font-size="14.2" textLength="70.70" lengthAdjust="spacingAndGlyphs" fill="#111" class="t t2" xml:space="preserve">Critical  Sh number</text>
<path d="M632.10,161.80L656.79,225.61" stroke="#000" stroke-width="1.8"/>
<path d="M659.50,232.60L654.10,225.58L658.76,223.77Z" fill="#000"/>
</svg></body></html>
